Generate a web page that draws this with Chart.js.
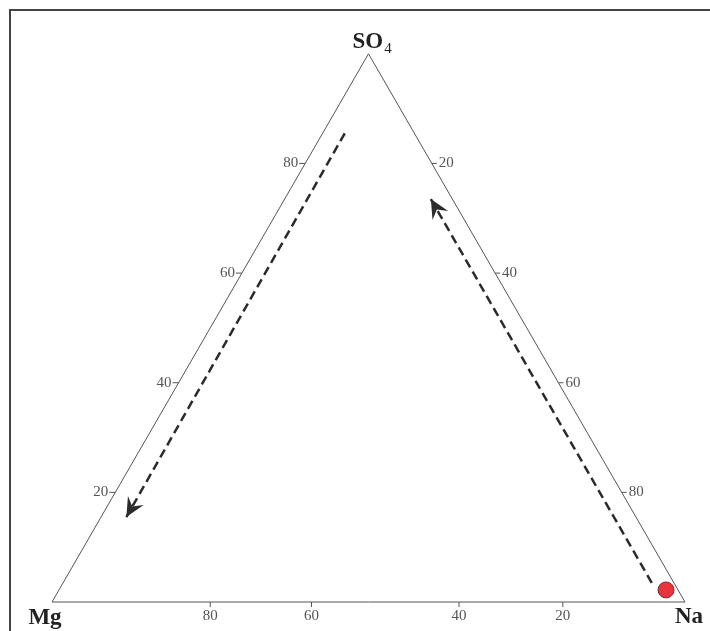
<!DOCTYPE html>
<html>
<head>
<meta charset="utf-8">
<script src="https://cdn.jsdelivr.net/npm/chart.js@4/dist/chart.umd.min.js"></script>
<style>
  html, body { margin: 0; padding: 0; background: #fff; overflow: hidden; }
  #wrap { width: 710px; height: 631px; position: relative; }
</style>
</head>
<body>
<div id="wrap"><canvas id="ternary"></canvas></div>
<script>
// Sommets du diagramme ternaire
const vertexLabels = ["Mg", "Na", "SO4"];

// Point mesuré (Mg, Na, SO4 en %)
const sampleMg = [1.9];
const sampleNa = [95.9];
const sampleSO4 = [2.2];

// Flèches de tendance (début -> fin), en %
const arrowLeftMg = [11, 80.5];
const arrowLeftNa = [3.5, 4];
const arrowLeftSO4 = [85.5, 15.5];
const arrowRightMg = [3.5, 3.4];
const arrowRightNa = [93, 23.1];
const arrowRightSO4 = [3.5, 73.5];

// Graduations des côtés
const leftTicks = [20, 40, 60, 80];          // SO4 sur le côté Mg-SO4
const rightTicks = [20, 40, 60, 80];         // Na sur le côté SO4-Na
const bottomTickLabels = ["80", "60", "40", "20"];
const bottomTickAt = [75, 59, 35.7, 19.3];   // Mg % où la graduation apparaît

const H = Math.sqrt(3) / 2;

function tern(mg, na, so4) {
  const s = mg + na + so4;
  return { x: (100 * (na + so4 / 2)) / s, y: (100 * so4 * H) / s };
}

const triangle = [tern(100, 0, 0), tern(0, 100, 0), tern(0, 0, 100), tern(100, 0, 0)];
const leftArrow = arrowLeftMg.map((m, i) => tern(m, arrowLeftNa[i], arrowLeftSO4[i]));
const rightArrow = arrowRightMg.map((m, i) => tern(m, arrowRightNa[i], arrowRightSO4[i]));
const samples = sampleMg.map((m, i) => tern(m, sampleNa[i], sampleSO4[i]));

const serif = "'Liberation Serif', 'DejaVu Serif', serif";

// échelle : Mg en (52, 602), 6.33 px par unité
const originX = 52, originY = 602, pxPerUnit = 6.33;

const ternaryDecor = {
  id: "ternaryDecor",
  beforeDraw(chart) {
    const c = chart.ctx;
    c.save();
    c.strokeStyle = "#444";
    c.lineWidth = 2;
    c.beginPath();
    c.moveTo(10, 631);
    c.lineTo(10, 10);
    c.lineTo(710, 10);
    c.stroke();
    c.restore();
  },
  afterDatasetsDraw(chart) {
    const c = chart.ctx;
    const xs = chart.scales.x, ys = chart.scales.y;
    const px = (p) => ({ x: xs.getPixelForValue(p.x), y: ys.getPixelForValue(p.y) });

    c.save();
    c.strokeStyle = "#555";
    c.fillStyle = "#555";
    c.lineWidth = 1;
    c.font = "15px " + serif;
    c.textBaseline = "middle";

    // côté gauche
    leftTicks.forEach((v) => {
      const p = px(tern(100 - v, 0, v));
      c.beginPath(); c.moveTo(p.x - 6, p.y); c.lineTo(p.x, p.y); c.stroke();
      c.textAlign = "right";
      c.fillText(String(v), p.x - 7, p.y);
    });
    // côté droit
    rightTicks.forEach((v) => {
      const p = px(tern(0, v, 100 - v));
      c.beginPath(); c.moveTo(p.x, p.y); c.lineTo(p.x + 5, p.y); c.stroke();
      c.textAlign = "left";
      c.fillText(String(v), p.x + 7, p.y);
    });
    // base
    bottomTickAt.forEach((v, i) => {
      const p = px(tern(v, 100 - v, 0));
      c.beginPath(); c.moveTo(p.x, p.y); c.lineTo(p.x, p.y + 5); c.stroke();
      c.textAlign = "center";
      c.textBaseline = "top";
      c.fillText(bottomTickLabels[i], p.x, p.y + 7);
      c.textBaseline = "middle";
    });

    // têtes de flèches
    c.fillStyle = "#2b2b2b";
    [leftArrow, rightArrow].forEach((arr) => {
      const a = px(arr[arr.length - 2]);
      const b = px(arr[arr.length - 1]);
      const ang = Math.atan2(b.y - a.y, b.x - a.x);
      const L = 19, W = 9, notch = 12;
      c.beginPath();
      c.moveTo(b.x, b.y);
      c.lineTo(b.x - L * Math.cos(ang) + W * Math.sin(ang), b.y - L * Math.sin(ang) - W * Math.cos(ang));
      c.lineTo(b.x - notch * Math.cos(ang), b.y - notch * Math.sin(ang));
      c.lineTo(b.x - L * Math.cos(ang) - W * Math.sin(ang), b.y - L * Math.sin(ang) + W * Math.cos(ang));
      c.closePath();
      c.fill();
    });

    // noms des sommets
    c.fillStyle = "#222";
    c.font = "bold 23px " + serif;
    c.textBaseline = "alphabetic";
    const pMg = px(triangle[0]);
    const pNa = px(triangle[1]);
    const pS = px(triangle[2]);
    c.textAlign = "center";
    c.fillText(vertexLabels[0], pMg.x - 7, pMg.y + 22);
    c.fillText(vertexLabels[1], pNa.x + 4, pNa.y + 21);
    c.textAlign = "left";
    const sx = pS.x - 16, sy = pS.y - 6;
    c.fillText("SO", sx, sy);
    const w = c.measureText("SO").width;
    c.font = "15px " + serif;
    c.fillText("4", sx + w + 1, sy + 5);
    c.restore();
  },
};

const chart = new Chart(document.getElementById("ternary"), {
  type: "scatter",
  data: {
    datasets: [
      {
        type: "line",
        data: triangle,
        borderColor: "#555",
        borderWidth: 1,
        pointRadius: 0,
        fill: false,
      },
      {
        type: "line",
        data: leftArrow,
        borderColor: "#2b2b2b",
        borderWidth: 2.5,
        borderDash: [9, 5],
        pointRadius: 0,
      },
      {
        type: "line",
        data: rightArrow,
        borderColor: "#2b2b2b",
        borderWidth: 2.5,
        borderDash: [9, 5],
        pointRadius: 0,
      },
      {
        data: samples,
        backgroundColor: "#e8343c",
        borderColor: "#8a2a2a",
        borderWidth: 1,
        pointRadius: 8,
      },
    ],
  },
  options: {
    responsive: true,
    maintainAspectRatio: false,
    animation: false,
    layout: { padding: 0 },
    plugins: { legend: { display: false }, tooltip: { enabled: false } },
    scales: {
      x: { type: "linear", display: false, min: 0, max: 100 },
      y: { type: "linear", display: false, min: 0, max: 100 },
    },
  },
  plugins: [ternaryDecor],
});

// Ajuste les bornes des axes à la zone de tracé réelle
const ca = chart.chartArea;
chart.options.scales.x.min = (ca.left - originX) / pxPerUnit;
chart.options.scales.x.max = (ca.right - originX) / pxPerUnit;
chart.options.scales.y.min = (originY - ca.bottom) / pxPerUnit;
chart.options.scales.y.max = (originY - ca.top) / pxPerUnit;
chart.update();
</script>
</body>
</html>
